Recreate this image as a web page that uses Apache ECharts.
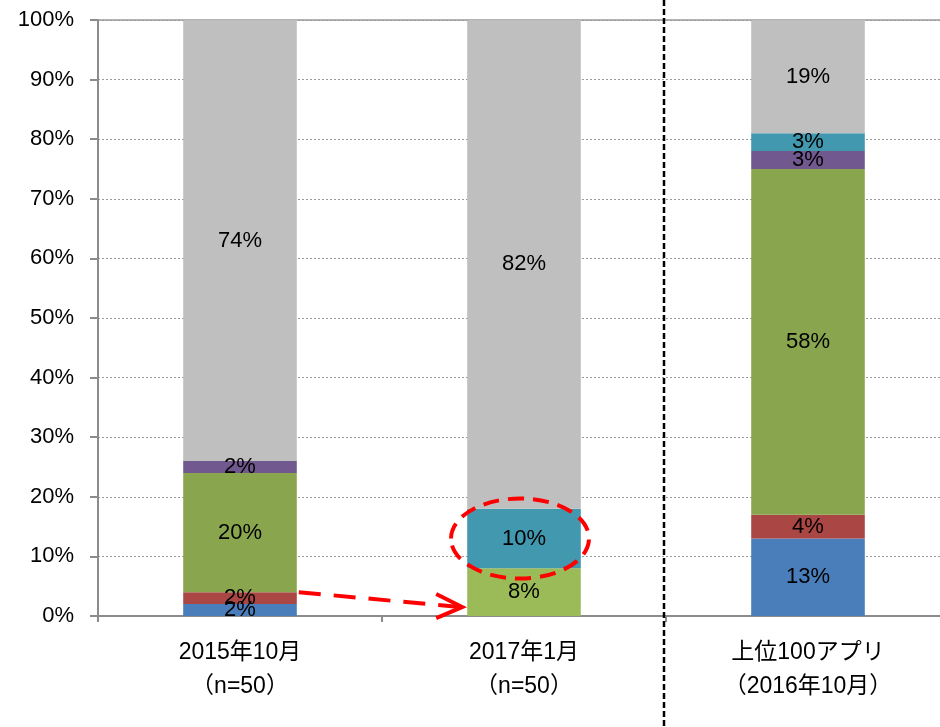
<!DOCTYPE html>
<html><head><meta charset="utf-8">
<script src="https://cdn.jsdelivr.net/npm/echarts@6/dist/echarts.min.js"></script>
<style>html,body{margin:0;padding:0;background:#fff}#c{width:940px;height:727px}</style>
</head><body><div id="c"></div>
<script>
const categories = ['2015年10月\n（n=50）', '2017年1月\n（n=50）', '上位100アプリ\n（2016年10月）'];
const yTickValues = [0, 10, 20, 30, 40, 50, 60, 70, 80, 90, 100];
const blueVals = [2, 0, 13];
const redVals = [2, 0, 4];
const greenVals = [20, 8, 58];
const purpleVals = [2, 0, 3];
const tealVals = [0, 10, 3];
const grayVals = [74, 82, 19];

const FONT = "'Liberation Sans', 'Noto Sans CJK JP', sans-serif";
const chart = echarts.init(document.getElementById('c'), null, {renderer: 'canvas'});

function mk(name, data, color) {
  return {
    name, type: 'bar', stack: 'all', data, barWidth: '40%',
    itemStyle: {color},
    label: {
      show: true, position: 'inside', color: '#000', fontSize: 22, fontFamily: FONT,
      formatter: p => p.value ? p.value + '%' : ''
    },
    emphasis: {disabled: true}
  };
}

chart.setOption({
  animation: false,
  grid: {left: 98, top: 20, bottom: 111, width: 852, containLabel: false, outerBoundsMode: 'none'},
  xAxis: {
    type: 'category', data: categories,
    axisLine: {lineStyle: {color: '#8c8c8c', width: 2}},
    axisTick: {show: true, length: 6, lineStyle: {color: '#8c8c8c', width: 2}},
    axisLabel: {color: '#000', fontSize: 23, fontFamily: FONT, lineHeight: 34, margin: 20}
  },
  yAxis: {
    type: 'value', min: yTickValues[0], max: yTickValues[yTickValues.length - 1], interval: 10,
    axisLine: {show: true, lineStyle: {color: '#8c8c8c', width: 2}},
    axisTick: {show: true, inside: false, length: 8, lineStyle: {color: '#8c8c8c', width: 2}},
    axisLabel: {color: '#000', fontSize: 22, fontFamily: FONT, margin: 24, formatter: '{value}%'},
    splitLine: {show: true, lineStyle: {color: '#9a9a9a', type: [2, 2], width: 1}}
  },
  series: [
    mk('blue', blueVals, '#4A7EBB'),
    mk('red', redVals, '#AA4643'),
    mk('green', greenVals, p => p.dataIndex === 1 ? '#9BBB59' : '#89A54E'),
    mk('purple', purpleVals, '#71588F'),
    mk('teal', tealVals, '#4198AF'),
    mk('gray', grayVals, '#BFBFBF')
  ]
});

// annotations positioned from the axes
const px = (ci, v) => chart.convertToPixel({gridIndex: 0}, [ci, v]);
const c0 = px(0, 0), c1 = px(1, 0), c2 = px(2, 0);
const catW = c1[0] - c0[0];
const barW = catW * 0.4;
const boundary = (c1[0] + c2[0]) / 2;
const yTop = px(0, 100)[1];

const start = [c0[0] + barW / 2, px(0, blueVals[0] + redVals[0])[1]];
const tip = [c1[0] - barW / 2 - 5, px(1, 1.5)[1]];
const ellC = [c1[0] - 4, px(1, greenVals[1] + tealVals[1] / 2)[1]];

chart.setOption({
  graphic: [
    {type: 'line', shape: {x1: c0[0] - catW / 2, y1: yTop, x2: 940, y2: yTop},
     style: {stroke: '#9a9a9a', lineWidth: 1.5}, z: 1},
    {type: 'line', shape: {x1: boundary - 2, y1: 0, x2: boundary - 2, y2: 727},
     style: {stroke: '#000', lineWidth: 2.5, lineDash: [6, 3]}, z: 100},
    {type: 'line', shape: {x1: start[0] + 2, y1: start[1], x2: tip[0] - 2, y2: tip[1]},
     style: {stroke: '#FF0000', lineWidth: 4, lineDash: [22, 13]}, z: 100},
    {type: 'polyline', shape: {points: [[tip[0] - 26, tip[1] - 13], tip, [tip[0] - 26, tip[1] + 11]]},
     style: {stroke: '#FF0000', lineWidth: 4, fill: null}, z: 100},
    {type: 'ellipse', shape: {cx: ellC[0], cy: ellC[1], rx: 69, ry: 40},
     style: {stroke: '#FF0000', lineWidth: 4, fill: null, lineDash: [16, 9]}, z: 100}
  ]
});
</script>
</body></html>
